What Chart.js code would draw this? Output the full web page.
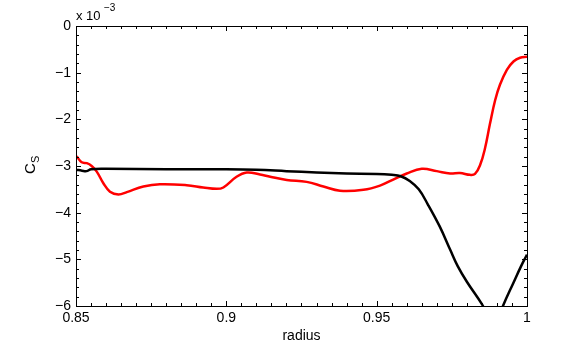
<!DOCTYPE html>
<html>
<head>
<meta charset="utf-8">
<script src="https://cdn.jsdelivr.net/npm/chart.js@4.4.1/dist/chart.umd.min.js"></script>
<style>
  html, body { margin: 0; padding: 0; background: #fff; }
</style>
</head>
<body>
<canvas id="myChart" width="581" height="344"></canvas>
<script>
// values (y in units of 1e-3)
const blackX = [0.85, 0.852, 0.8535, 0.855, 0.86, 0.88, 0.9, 0.91, 0.92, 0.93, 0.94, 0.95, 0.955, 0.958, 0.961, 0.964, 0.967, 0.971, 0.9745, 0.977, 0.98, 0.985, 0.987, 0.989, 0.991, 0.992, 0.9955, 0.998, 1.0]
const blackY = [-3.08, -3.10, -3.11, -3.07, -3.06, -3.07, -3.07, -3.08, -3.11, -3.14, -3.16, -3.17, -3.19, -3.22, -3.32, -3.50, -3.82, -4.30, -4.80, -5.15, -5.48, -5.96, -6.2, -6.3, -6.2, -6.0, -5.5, -5.15, -4.9]

const redX = [0.8502, 0.8519, 0.8536, 0.8552, 0.8569, 0.8591, 0.8613, 0.8641, 0.8669, 0.8724, 0.8779, 0.8868, 0.8923, 0.8968, 0.8990, 0.9034, 0.9068, 0.9112, 0.9146, 0.9201, 0.9267, 0.9323, 0.9378, 0.9456, 0.9511, 0.9555, 0.9600, 0.9650, 0.9700, 0.9744, 0.9777, 0.9811, 0.9827, 0.9844, 0.9860, 0.9877, 0.9894, 0.9910, 0.9933, 0.9955, 0.9977, 1.0]
const redY = [-2.79, -2.92, -2.94, -3.00, -3.12, -3.37, -3.55, -3.61, -3.56, -3.44, -3.39, -3.41, -3.46, -3.49, -3.46, -3.23, -3.14, -3.18, -3.23, -3.30, -3.34, -3.44, -3.53, -3.51, -3.42, -3.29, -3.16, -3.06, -3.11, -3.16, -3.15, -3.19, -3.17, -2.98, -2.63, -2.09, -1.59, -1.26, -0.94, -0.76, -0.68, -0.66]

const xTicks = [0.85, 0.9, 0.95, 1]
const xTickLabels = ['0.85', '0.9', '0.95', '1']
const yTicks = [0, -1, -2, -3, -4, -5, -6]
const yTickLabels = ['0', '\u22121', '\u22122', '\u22123', '\u22124', '\u22125', '\u22126']

const FONT = '"Liberation Sans", Arial, Helvetica, sans-serif'

function toPoints(xs, ys) {
  return xs.map((x, i) => ({ x: x, y: ys[i] }))
}

// box, inward ticks (major + minor), axis labels
const frame = {
  id: 'frame',
  afterDatasetsDraw(chart) {
    const { ctx, chartArea: a, scales } = chart
    const xs = scales.x, ys = scales.y
    ctx.save()
    ctx.strokeStyle = '#000'
    ctx.lineWidth = 1
    ctx.beginPath()
    // minor x ticks every 0.005
    for (let i = 0; i <= 30; i++) {
      const v = 0.85 + i * 0.005
      const px = Math.round(xs.getPixelForValue(v)) + 0.5
      const len = i % 10 === 0 ? 5 : 3
      ctx.moveTo(px, a.bottom); ctx.lineTo(px, a.bottom - len)
      ctx.moveTo(px, a.top); ctx.lineTo(px, a.top + len)
    }
    // minor y ticks every 0.2
    for (let i = 0; i <= 30; i++) {
      const v = -i * 0.2
      const py = Math.round(ys.getPixelForValue(v)) + 0.5
      const len = i % 5 === 0 ? 5 : 3
      ctx.moveTo(a.left, py); ctx.lineTo(a.left + len, py)
      ctx.moveTo(a.right, py); ctx.lineTo(a.right - len, py)
    }
    ctx.stroke()
    ctx.strokeRect(Math.round(a.left) + 0.5, Math.round(a.top) + 0.5,
      Math.round(a.right - a.left), Math.round(a.bottom - a.top))

    ctx.fillStyle = '#000'
    // exponent label
    ctx.textAlign = 'left'
    ctx.textBaseline = 'alphabetic'
    ctx.font = '13px ' + FONT
    ctx.fillText('x 10', a.left, 20)
    ctx.font = '10px ' + FONT
    ctx.fillText('\u22123', a.left + 28, 11)

    // x title
    ctx.font = '14px ' + FONT
    ctx.textAlign = 'center'
    ctx.fillText('radius', (a.left + a.right) / 2, 340)

    // y title C_S
    ctx.translate(35, 166)
    ctx.rotate(-Math.PI / 2)
    ctx.textAlign = 'left'
    ctx.font = '15px ' + FONT
    ctx.fillText('C', -8, 0)
    ctx.font = '11px ' + FONT
    ctx.fillText('S', 3, 4)
    ctx.restore()
  }
}

const ctx = document.getElementById('myChart').getContext('2d')
const myChart = new Chart(ctx, {
  type: 'line',
  data: {
    datasets: [{
      label: 'black',
      data: toPoints(blackX, blackY),
      borderColor: '#000000',
      borderWidth: 2.5,
      pointRadius: 0,
      tension: 0.4,
      clip: 0,
    }, {
      label: 'red',
      data: toPoints(redX, redY),
      borderColor: '#ff0000',
      borderWidth: 2.5,
      pointRadius: 0,
      tension: 0.4,
      clip: 0,
    }]
  },
  options: {
    responsive: false,
    animation: false,
    layout: { padding: { top: 26, right: 54, left: 0, bottom: 0 } },
    scales: {
      x: {
        type: 'linear',
        min: 0.85,
        max: 1,
        afterBuildTicks: s => { s.ticks = xTicks.map(v => ({ value: v })) },
        afterFit: s => { s.height = 38 },
        ticks: {
          color: '#000',
          font: { family: FONT, size: 14 },
          padding: 4,
          maxRotation: 0,
          autoSkip: false,
          callback: (v) => xTickLabels[xTicks.indexOf(v)] ?? ''
        },
        grid: { display: false, drawTicks: false },
        border: { display: false }
      },
      y: {
        min: -6,
        max: 0,
        afterBuildTicks: s => { s.ticks = yTicks.map(v => ({ value: v })) },
        afterFit: s => { s.width = 76 },
        ticks: {
          color: '#000',
          font: { family: FONT, size: 14 },
          padding: 5,
          autoSkip: false,
          callback: (v) => yTickLabels[yTicks.indexOf(v)] ?? ''
        },
        grid: { display: false, drawTicks: false },
        border: { display: false }
      }
    },
    plugins: {
      legend: { display: false },
      tooltip: { enabled: false }
    }
  },
  plugins: [frame]
})
</script>
</body>
</html>
